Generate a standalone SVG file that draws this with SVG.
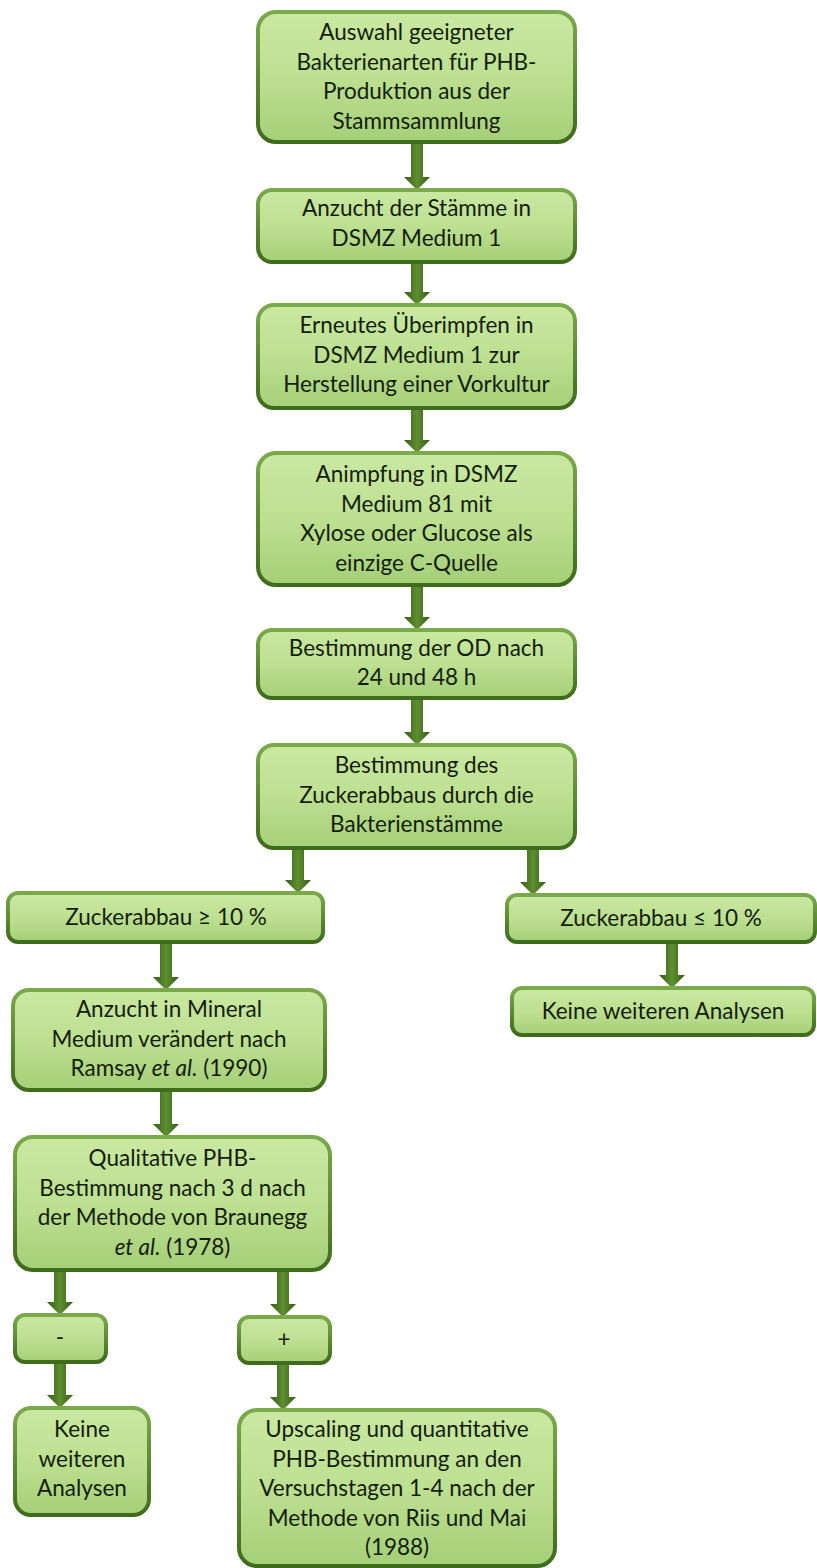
<svg xmlns="http://www.w3.org/2000/svg" width="817" height="1568" viewBox="0 0 817 1568">
<defs>
<linearGradient id="boxFill" x1="0" y1="0" x2="0" y2="1">
<stop offset="0" stop-color="#cae8a2"/>
<stop offset="0.5" stop-color="#bde091"/>
<stop offset="1" stop-color="#a5cf78"/>
</linearGradient>
<linearGradient id="boxStroke" x1="0" y1="0" x2="0" y2="1">
<stop offset="0" stop-color="#7aaa4a"/>
<stop offset="1" stop-color="#3f6b1c"/>
</linearGradient>
<linearGradient id="arrowFill" x1="0" y1="0" x2="1" y2="0">
<stop offset="0" stop-color="#355c15"/>
<stop offset="0.5" stop-color="#5e8f30"/>
<stop offset="1" stop-color="#355c15"/>
</linearGradient>
</defs>
<style>
.box{fill:url(#boxFill);stroke:url(#boxStroke);stroke-width:4}
.arrow{fill:url(#arrowFill)}
.t{font-family:Lato,"Liberation Sans",sans-serif;font-size:22.5px;fill:#141d0c;text-anchor:middle}
.i{font-style:italic}
</style>
<g id="connectors">
<path class="arrow" d="M411 142H423V177H430L417 190L404 177H411Z"/>
<path class="arrow" d="M411 262H423V292H430L417 305L404 292H411Z"/>
<path class="arrow" d="M411 408H423V440H430L417 453L404 440H411Z"/>
<path class="arrow" d="M411 585H423V617H430L417 630L404 617H411Z"/>
<path class="arrow" d="M411 698H423V732H430L417 745L404 732H411Z"/>
<path class="arrow" d="M292 848H304V880H311L298 893L285 880H292Z"/>
<path class="arrow" d="M527 848H539V882H546L533 895L520 882H527Z"/>
<path class="arrow" d="M160 942H172V977H179L166 990L153 977H160Z"/>
<path class="arrow" d="M666 942H678V975H685L672 988L659 975H666Z"/>
<path class="arrow" d="M160 1090H172V1124H179L166 1137L153 1124H160Z"/>
<path class="arrow" d="M54 1270H66V1302H73L60 1315L47 1302H54Z"/>
<path class="arrow" d="M277 1270H289V1304H296L283 1317L270 1304H277Z"/>
<path class="arrow" d="M54 1362H66V1395H73L60 1408L47 1395H54Z"/>
<path class="arrow" d="M277 1363H289V1397H296L283 1410L270 1397H277Z"/>
</g>
<g id="n1"><rect class="box" x="258" y="12" width="317" height="130" rx="18"/>
<text class="t"><tspan x="416.5" y="40">Auswahl geeigneter</tspan><tspan x="416.5" y="69.5">Bakterienarten für PHB-</tspan><tspan x="416.5" y="99">Produktion aus der</tspan><tspan x="416.5" y="128.5">Stammsammlung</tspan></text></g>
<g id="n2"><rect class="box" x="258" y="190" width="317" height="72" rx="14"/>
<text class="t"><tspan x="416.5" y="216">Anzucht der Stämme in</tspan><tspan x="416.5" y="246">DSMZ Medium 1</tspan></text></g>
<g id="n3"><rect class="box" x="258" y="305" width="317" height="103" rx="16"/>
<text class="t"><tspan x="416.5" y="333">Erneutes Überimpfen in</tspan><tspan x="416.5" y="362.5">DSMZ Medium 1 zur</tspan><tspan x="416.5" y="392">Herstellung einer  Vorkultur</tspan></text></g>
<g id="n4"><rect class="box" x="258" y="453" width="317" height="132" rx="18"/>
<text class="t"><tspan x="416.5" y="482">Animpfung in DSMZ</tspan><tspan x="416.5" y="511.5">Medium 81 mit</tspan><tspan x="416.5" y="541">Xylose oder Glucose als</tspan><tspan x="416.5" y="570.5">einzige C-Quelle</tspan></text></g>
<g id="n5"><rect class="box" x="258" y="630" width="317" height="68" rx="14"/>
<text class="t"><tspan x="416.5" y="656">Bestimmung der OD nach</tspan><tspan x="416.5" y="685">24 und 48 h</tspan></text></g>
<g id="n6"><rect class="box" x="258" y="745" width="317" height="103" rx="16"/>
<text class="t"><tspan x="416.5" y="773">Bestimmung des</tspan><tspan x="416.5" y="802.5">Zuckerabbaus durch die</tspan><tspan x="416.5" y="832">Bakterienstämme</tspan></text></g>
<g id="n7"><rect class="box" x="8" y="893" width="315" height="49" rx="10"/>
<text class="t" x="166" y="925">Zuckerabbau ≥ 10 %</text></g>
<g id="n8"><rect class="box" x="507" y="895" width="308" height="47" rx="10"/>
<text class="t" x="661" y="926">Zuckerabbau ≤ 10 %</text></g>
<g id="n9"><rect class="box" x="13" y="990" width="312" height="100" rx="16"/>
<text class="t"><tspan x="169" y="1017">Anzucht in Mineral</tspan><tspan x="169" y="1046.5">Medium verändert nach</tspan><tspan x="169" y="1076">Ramsay <tspan class="i">et al.</tspan> (1990)</tspan></text></g>
<g id="n10"><rect class="box" x="512" y="988" width="302" height="47" rx="10"/>
<text class="t" x="663" y="1019">Keine weiteren Analysen</text></g>
<g id="n11"><rect class="box" x="15" y="1137" width="315" height="133" rx="18"/>
<text class="t"><tspan x="172.5" y="1166">Qualitative PHB-</tspan><tspan x="172.5" y="1195.5">Bestimmung nach 3 d nach</tspan><tspan x="172.5" y="1225">der Methode von Braunegg</tspan><tspan x="172.5" y="1254.5"><tspan class="i">et al.</tspan> (1978)</tspan></text></g>
<g id="n12"><rect class="box" x="15" y="1315" width="91" height="47" rx="10"/>
<text class="t" x="60" y="1345">-</text></g>
<g id="n13"><rect class="box" x="239" y="1317" width="91" height="46" rx="10"/>
<text class="t" x="284" y="1347">+</text></g>
<g id="n14"><rect class="box" x="15" y="1408" width="134" height="107" rx="16"/>
<text class="t"><tspan x="82" y="1437">Keine</tspan><tspan x="82" y="1466.5">weiteren</tspan><tspan x="82" y="1496">Analysen</tspan></text></g>
<g id="n15"><rect class="box" x="239" y="1410" width="316" height="156" rx="18"/>
<text class="t"><tspan x="397" y="1437">Upscaling und quantitative</tspan><tspan x="397" y="1466.5">PHB-Bestimmung an den</tspan><tspan x="397" y="1496">Versuchstagen 1-4 nach der</tspan><tspan x="397" y="1525.5">Methode von Riis und Mai</tspan><tspan x="397" y="1555">(1988)</tspan></text></g>
</svg>
